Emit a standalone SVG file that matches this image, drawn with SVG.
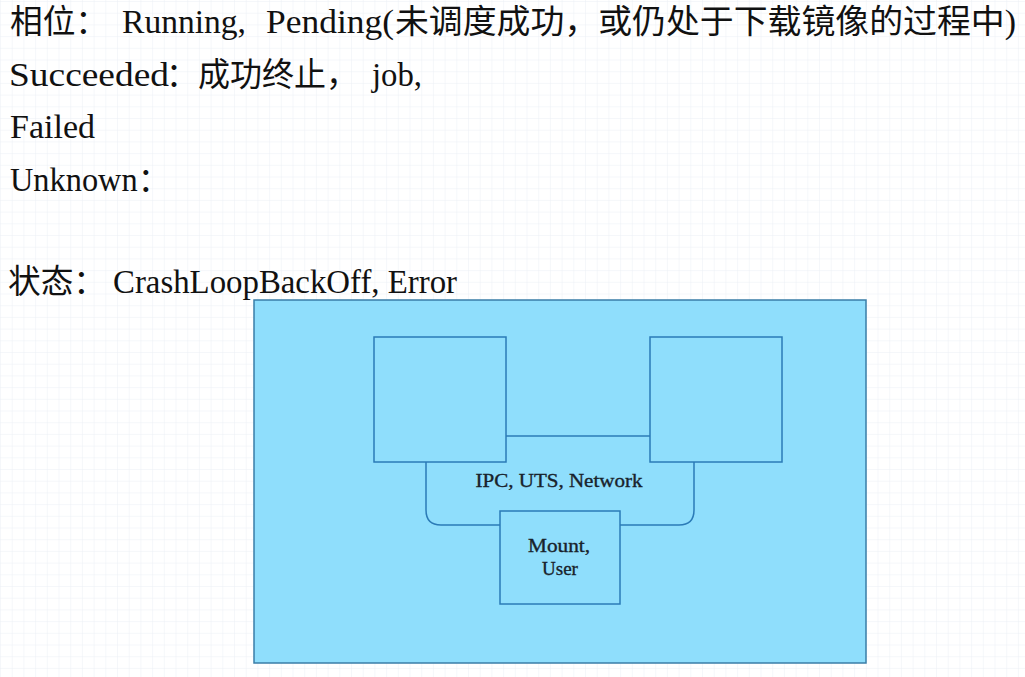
<svg xmlns="http://www.w3.org/2000/svg" width="1025" height="677" viewBox="0 0 1025 677">
  <defs>
    <pattern id="grid" x="1" y="2" width="11.7" height="11.7" patternUnits="userSpaceOnUse">
      <path d="M11.7,0 V11.7 M0,11.7 H11.7" fill="none" stroke="#ebf0f5" stroke-width="1"/>
    </pattern>
    <style>
      .head { font-family: "Liberation Serif", "Noto Sans CJK SC", serif; font-size: 33px; fill: #111; }
      .box { fill: #8fdefc; stroke: #2b7bb7; stroke-width: 1.5; }
      .outer { fill: #8fdefc; stroke: #3a7ea8; stroke-width: 1.5; }
      .conn { fill: none; stroke: #2b7bb7; stroke-width: 1.5; }
      .lbl { font-family: "Liberation Serif", serif; font-size: 19px; fill: #18222b; stroke: #18222b; stroke-width: 0.35; text-anchor: middle; }
    </style>
  </defs>
  <rect x="0" y="0" width="1025" height="677" fill="#ffffff"/>
  <rect x="0" y="0" width="1025" height="677" fill="url(#grid)"/>

  <g id="heading">
    <text class="head" x="10" y="33" textLength="98" lengthAdjust="spacingAndGlyphs">相位：</text>
    <text class="head" x="122" y="33" textLength="124" lengthAdjust="spacingAndGlyphs">Running,</text>
    <text class="head" x="266" y="33" textLength="128" lengthAdjust="spacingAndGlyphs">Pending(</text>
    <text class="head" x="395" y="33" textLength="621" lengthAdjust="spacingAndGlyphs">未调度成功，或仍处于下载镜像的过程中)</text>

    <text class="head" x="9" y="86" textLength="160" lengthAdjust="spacingAndGlyphs">Succeeded</text>
    <text class="head" x="166" y="86" textLength="192" lengthAdjust="spacingAndGlyphs">：成功终止，</text>
    <text class="head" x="372" y="86" textLength="50" lengthAdjust="spacingAndGlyphs">job,</text>

    <text class="head" x="10" y="138" textLength="85" lengthAdjust="spacingAndGlyphs">Failed</text>
    <text class="head" x="10" y="191" textLength="160" lengthAdjust="spacingAndGlyphs">Unknown：</text>

    <text class="head" x="8" y="293" textLength="98" lengthAdjust="spacingAndGlyphs">状态：</text>
    <text class="head" x="113" y="293" textLength="344" lengthAdjust="spacingAndGlyphs">CrashLoopBackOff, Error</text>
  </g>

  <g id="pod">
    <rect class="outer" x="254" y="300" width="612" height="363"/>
  </g>

  <g id="connectors">
    <path class="conn" d="M506,436 H650"/>
    <path class="conn" d="M426,462 V510 Q426,525 441,525 H500"/>
    <path class="conn" d="M694,462 V510 Q694,525 679,525 H620"/>
  </g>

  <g id="containerA">
    <rect class="box" x="374" y="337" width="132" height="125"/>
  </g>
  <g id="containerB">
    <rect class="box" x="650" y="337" width="132" height="125"/>
  </g>
  <g id="infra">
    <rect class="box" x="500" y="511" width="120" height="93"/>
    <text class="lbl" x="559" y="552" textLength="62" lengthAdjust="spacingAndGlyphs">Mount,</text>
    <text class="lbl" x="560" y="575">User</text>
  </g>
  <g id="shared-label">
    <text class="lbl" x="559" y="487" textLength="167" lengthAdjust="spacingAndGlyphs">IPC, UTS, Network</text>
  </g>
</svg>
